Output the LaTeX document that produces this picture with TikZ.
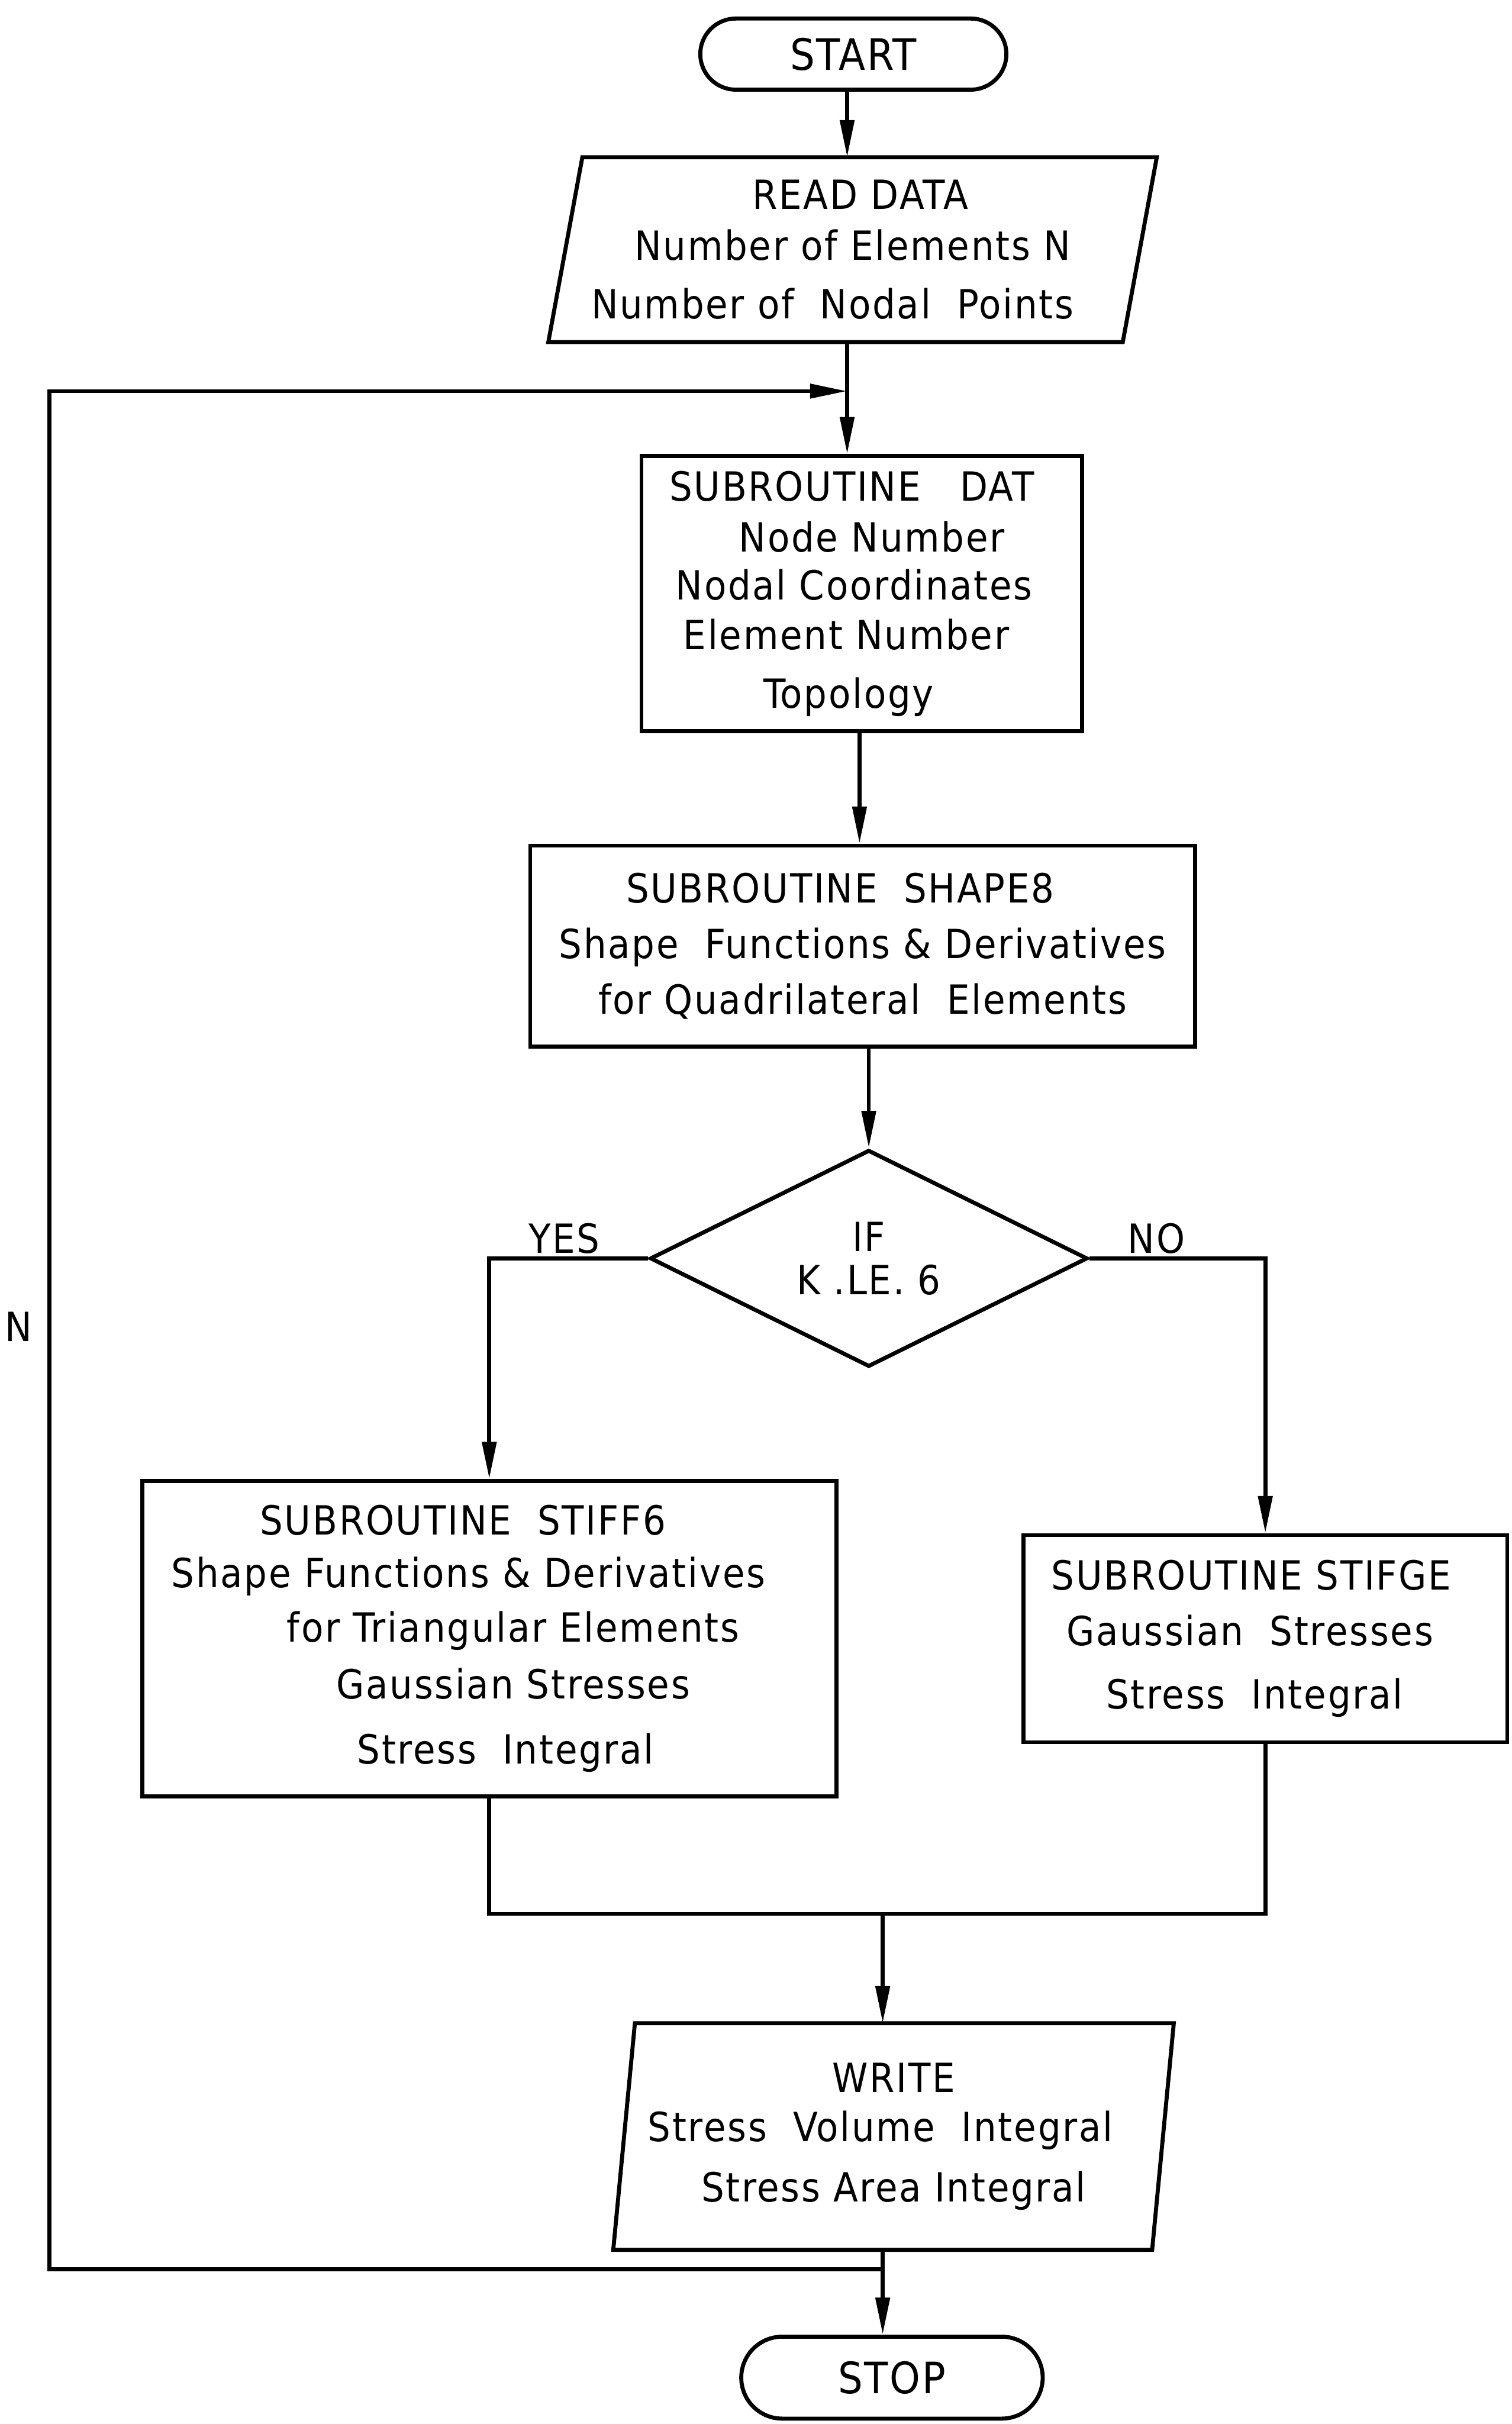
\documentclass[tikz,border=0pt]{standalone}
\usepackage{fontspec}
\setmainfont{DejaVu Sans Condensed}[LetterSpace=4]
\usetikzlibrary{shapes.geometric,shapes.misc,arrows.meta}
\begin{document}
\begin{tikzpicture}[x=0.5pt,y=-0.5pt,line width=1.3pt,
  every node/.style={font=\fontsize{13}{16.5}\selectfont,align=center,inner sep=0pt},
  proc/.style={draw,rectangle,line width=1.3pt},
  term/.style={draw,rounded rectangle,line width=1.3pt,font=\fontsize{14}{16.5}\selectfont},
  iobox/.style={rectangle},
  dec/.style={draw,diamond,line width=1.3pt},
  arr/.style={-{Triangle[length=12pt,width=4.5pt]}},
  lab/.style={font=\fontsize{13}{16.5}\selectfont}]
\useasboundingbox (0,0) rectangle (978,1568);
% nodes
\node[term,minimum width=99pt,minimum height=23pt] (start) at (552,35) {START};
\node[iobox,minimum width=184.5pt,minimum height=58.5pt] (read) at (551.5,161.5)
  {\hspace*{5pt}READ DATA\\Number of Elements N\\[2.5pt]\hspace*{-13pt}Number of~ Nodal~ Points~};
\draw ([xshift=5.5pt]read.north west) -- ([xshift=5.5pt]read.north east)
  -- ([xshift=-5.5pt]read.south east) -- ([xshift=-5.5pt]read.south west) -- cycle;
\node[proc,minimum width=142.5pt,minimum height=89pt] (dat) at (557.5,384)
  {\hspace*{-6.5pt}SUBROUTINE~~ DAT\\\hspace*{6.5pt}Node Number\\[-1pt]\hspace*{-5pt}Nodal Coordinates\\[-0.5pt]\hspace*{-10pt}Element Number\\[2.5pt]\hspace*{-8.5pt}Topology};
\node[proc,minimum width=215pt,minimum height=65pt] (shape) at (558,612)
  {\hspace*{-14.5pt}SUBROUTINE~ SHAPE8\\[1.5pt]Shape~ Functions \& Derivatives\\[1.5pt]for Quadrilateral~ Elements};
\node[dec,minimum width=141.5pt,minimum height=69pt] (dec) at (562,814)
  {IF\\[-2.5pt]K .LE. 6};
\node[proc,minimum width=224.5pt,minimum height=102pt] (stiff) at (316.5,1060)
  {\hspace*{-17pt}SUBROUTINE~ STIFF6\\[0.5pt]\hspace*{-13.5pt}Shape Functions \& Derivatives\\[1pt]\hspace*{15.5pt}for Triangular Elements\\[2pt]\hspace*{15.5pt}Gaussian Stresses\\[4.5pt]\hspace*{10.5pt}Stress~ Integral};
\node[proc,minimum width=156.5pt,minimum height=67pt] (stifge) at (818.5,1060)
  {\hspace*{-9pt}SUBROUTINE STIFGE\\[1.5pt]\hspace*{-10pt}Gaussian~ Stresses\\[4pt]\hspace*{-7pt}Stress~ Integral};
\node[iobox,minimum width=173pt,minimum height=72pt] (write) at (578,1382)
  {WRITE\\[-0.5pt]\hspace*{-8.5pt}Stress~ Volume~ Integral\\[3pt]Stress Area Integral};
\draw ([xshift=3.5pt]write.north west) -- ([xshift=3.5pt]write.north east)
  -- ([xshift=-3.5pt]write.south east) -- ([xshift=-3.5pt]write.south west) -- cycle;
\node[term,minimum width=97.5pt,minimum height=26.5pt] (stop) at (577,1538) {STOP};
\node[lab] (yes) at (365,801) {YES};
\node[lab] (no) at (748,801) {NO};
\node[lab] (nlab) at (12,858) {N};
% coordinates
\coordinate (c1) at (548,0);
\coordinate (c2) at (556,0);
\coordinate (m) at (571,1238);
\coordinate (lp) at (571,1468);
\coordinate (lb) at (32,1468);
\coordinate (lt) at (32,253);
\coordinate (jn) at (548,253);
% connectors
\draw[arr] (start.south -| c1) -- (read.north -| c1);
\draw[arr] (read.south -| c1) -- (dat.north -| c1);
\draw[arr] (dat.south -| c2) -- (shape.north -| c2);
\draw[arr] (shape.south -| dec.north) -- (dec.north);
\draw[arr] (dec.west) -| (stiff.north);
\draw[arr] (dec.east) -| (stifge.north);
\draw (stiff.south) |- (m) -| (stifge.south);
\draw[arr] (m) -- (write.north -| m);
\draw[arr] (write.south -| m) -- (stop.north -| m);
\draw[arr] (lp) -- (lb) -- (lt) -- (jn);
\end{tikzpicture}
\end{document}
